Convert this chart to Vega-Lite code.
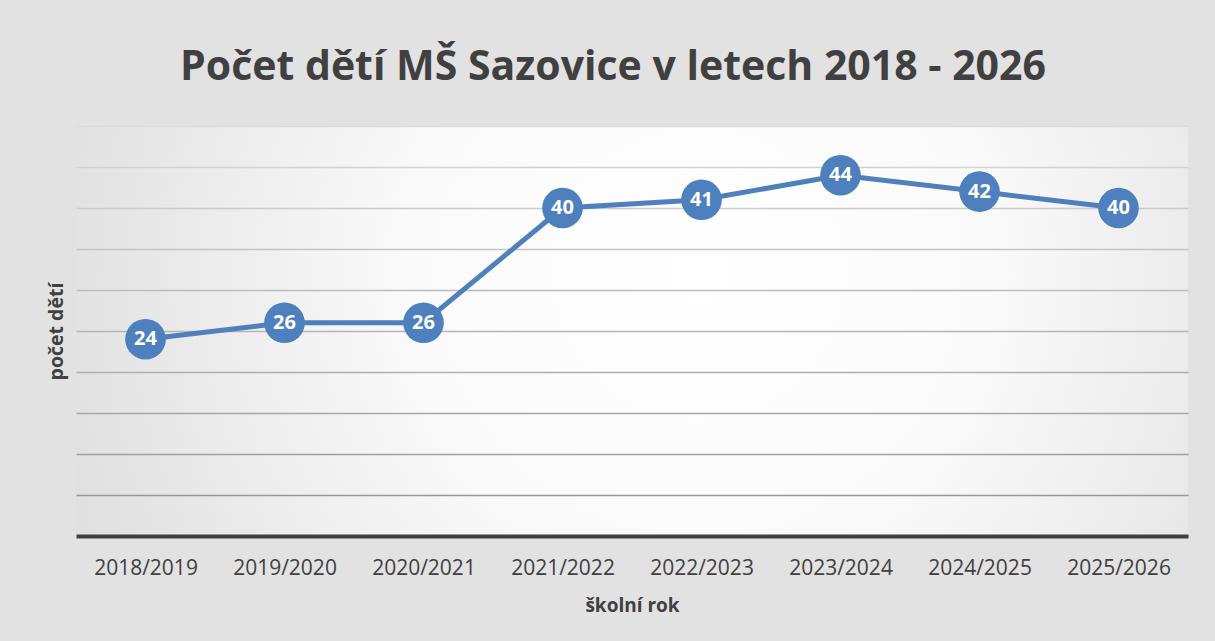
{
  "$schema": "https://vega.github.io/schema/vega-lite/v6.json",
  "width": 1112,
  "height": 410,
  "autosize": {"type": "none"},
  "padding": {"left": 76, "top": 126, "right": 27, "bottom": 105},
  "background": "#e2e2e2",
  "view": {
    "stroke": null,
    "fill": {
      "gradient": "radial",
      "x1": 0.56, "y1": 0.45, "r1": 0,
      "x2": 0.56, "y2": 0.45, "r2": 0.75,
      "stops": [
        {"offset": 0, "color": "#ffffff"},
        {"offset": 0.35, "color": "#fafafa"},
        {"offset": 1, "color": "#d4d4d4"}
      ]
    }
  },
  "title": {
    "text": "Počet dětí MŠ Sazovice v letech 2018 - 2026",
    "font": "Open Sans",
    "fontSize": 41,
    "fontWeight": "bold",
    "color": "#404040",
    "anchor": "middle",
    "frame": "group",
    "offset": 37,
    "dx": -19
  },
  "data": {
    "values": [
      {"rok": "2018/2019", "pocet": 24},
      {"rok": "2019/2020", "pocet": 26},
      {"rok": "2020/2021", "pocet": 26},
      {"rok": "2021/2022", "pocet": 40},
      {"rok": "2022/2023", "pocet": 41},
      {"rok": "2023/2024", "pocet": 44},
      {"rok": "2024/2025", "pocet": 42},
      {"rok": "2025/2026", "pocet": 40}
    ]
  },
  "encoding": {
    "x": {
      "field": "rok",
      "type": "ordinal",
      "sort": null,
      "scale": {"type": "point", "padding": 0.5},
      "axis": {
        "title": "školní rok",
        "titleFont": "Open Sans",
        "titleFontSize": 19,
        "titleFontWeight": "bold",
        "titleColor": "#404040",
        "titlePadding": 18,
        "labelFont": "Open Sans",
        "labelFontSize": 21,
        "labelColor": "#404040",
        "labelAngle": 0,
        "labelPadding": 21,
        "ticks": false,
        "tickSize": 0,
        "grid": false,
        "domain": true,
        "domainColor": "#404040",
        "domainWidth": 4
      }
    },
    "y": {
      "field": "pocet",
      "type": "quantitative",
      "scale": {"domain": [0, 50], "nice": false, "zero": true},
      "axis": {
        "title": "počet dětí",
        "titleFont": "Open Sans",
        "titleFontSize": 19.5,
        "titleFontWeight": "bold",
        "titleColor": "#404040",
        "titlePadding": 10,
        "values": [5, 10, 15, 20, 25, 30, 35, 40, 45, 50],
        "labels": false,
        "ticks": false,
        "domain": false,
        "grid": true,
        "gridWidth": 1.5,
        "gridColor": {"expr": "'rgb(' + round(145 + datum.value * 1.45) + ',' + round(145 + datum.value * 1.45) + ',' + round(145 + datum.value * 1.45) + ')'"}
      }
    }
  },
  "layer": [
    {
      "mark": {"type": "line", "color": "#4e80bd", "strokeWidth": 5}
    },
    {
      "mark": {"type": "point", "shape": "circle", "filled": true, "opacity": 1, "size": 1650, "color": "#4e80bd"}
    },
    {
      "mark": {"type": "text", "color": "#ffffff", "font": "Open Sans", "fontSize": 20, "fontWeight": "bold", "align": "center", "baseline": "middle"},
      "encoding": {"text": {"field": "pocet", "type": "quantitative"}}
    }
  ]
}
